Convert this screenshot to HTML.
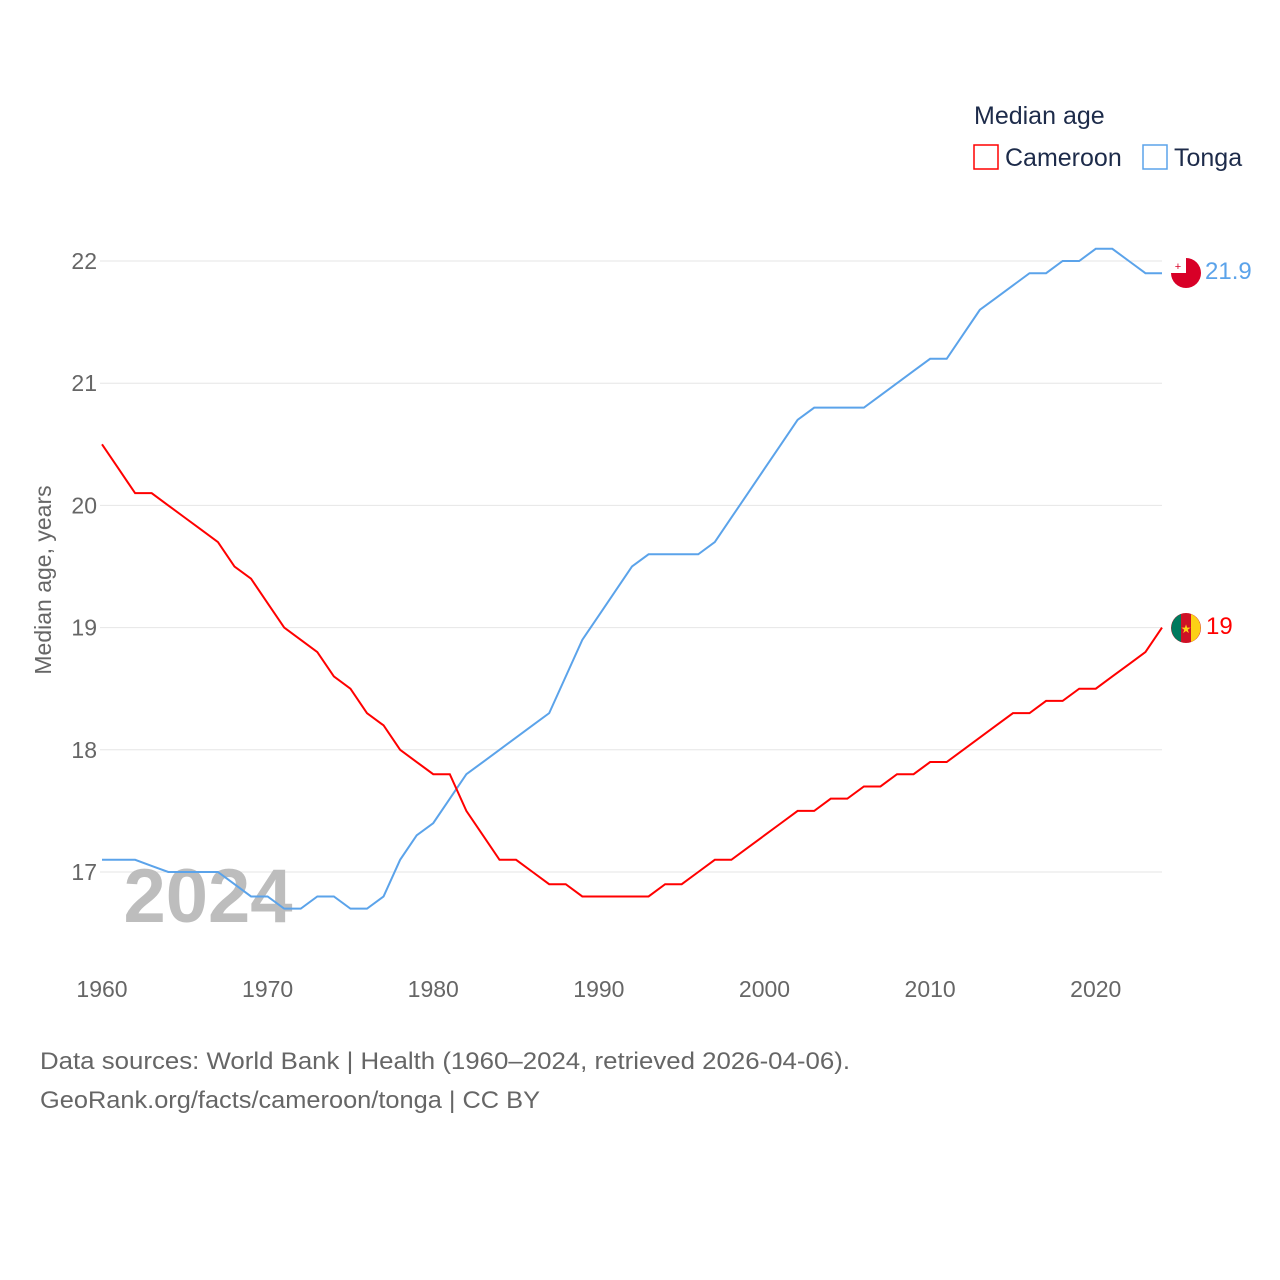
<!DOCTYPE html>
<html><head><meta charset="utf-8"><style>
body{margin:0;background:#fff;font-family:"Liberation Sans",sans-serif}
svg{display:block}
</style></head><body>
<svg width="1280" height="1280" viewBox="0 0 1280 1280">
<g id="grid"></g>
<g id="xt"></g>
<text x="208" y="922" font-size="76" font-weight="bold" fill="#bdbdbd" text-anchor="middle">2024</text>
<g id="lines"></g>
<text transform="translate(51,580) rotate(-90)" font-size="23" fill="#666" text-anchor="middle">Median age, years</text>
<text x="974" y="124" font-size="25" fill="#1d2b4a">Median age</text>
<g><rect x="974" y="145" width="24" height="24" fill="none" stroke="#f00" stroke-width="1.5"/><text x="1005" y="166" font-size="25" fill="#1d2b4a">Cameroon</text></g>
<g><rect x="1143" y="145" width="24" height="24" fill="none" stroke="#5ba3ea" stroke-width="1.5"/><text x="1174" y="166" font-size="25" fill="#1d2b4a">Tonga</text></g>
<g><circle cx="1186" cy="273" r="15" fill="#d80027"/><rect x="1171" y="258" width="15" height="15" fill="#fff"/><text x="1178" y="270" font-size="11" fill="#d80027" text-anchor="middle">+</text></g>
<text x="1205" y="279" font-size="24" fill="#5ba3ea">21.9</text>
<g><circle cx="1186" cy="628" r="15" fill="#ce1126"/><path d="M1181 614 A15 15 0 0 0 1181 642 Z" fill="#007a5e"/><path d="M1191 614 A15 15 0 0 1 1191 642 Z" fill="#fcd116"/><text x="1186" y="633" font-size="12" fill="#fcd116" text-anchor="middle">★</text></g>
<text x="1206" y="634" font-size="24" fill="#f00">19</text>
<text x="40" y="1069" font-size="24" fill="#666" textLength="810" lengthAdjust="spacingAndGlyphs">Data sources: World Bank | Health (1960–2024, retrieved 2026-04-06).</text>
<text x="40" y="1108" font-size="24" fill="#666" textLength="500" lengthAdjust="spacingAndGlyphs">GeoRank.org/facts/cameroon/tonga | CC BY</text>
</svg>
<script>
const years=[];for(let y=1960;y<=2024;y++)years.push(y);
const yTicks=[17,18,19,20,21,22];
const xTicks=[1960,1970,1980,1990,2000,2010,2020];
const cameroon=[20.5,20.3,20.1,20.1,20.0,19.9,19.8,19.7,19.5,19.4,19.2,19.0,18.9,18.8,18.6,18.5,18.3,18.2,18.0,17.9,17.8,17.8,17.5,17.3,17.1,17.1,17.0,16.9,16.9,16.8,16.8,16.8,16.8,16.8,16.9,16.9,17.0,17.1,17.1,17.2,17.3,17.4,17.5,17.5,17.6,17.6,17.7,17.7,17.8,17.8,17.9,17.9,18.0,18.1,18.2,18.3,18.3,18.4,18.4,18.5,18.5,18.6,18.7,18.8,19.0];
const tonga=[17.1,17.1,17.1,17.05,17.0,17.0,17.0,17.0,16.9,16.8,16.8,16.7,16.7,16.8,16.8,16.7,16.7,16.8,17.1,17.3,17.4,17.6,17.8,17.9,18.0,18.1,18.2,18.3,18.6,18.9,19.1,19.3,19.5,19.6,19.6,19.6,19.6,19.7,19.9,20.1,20.3,20.5,20.7,20.8,20.8,20.8,20.8,20.9,21.0,21.1,21.2,21.2,21.4,21.6,21.7,21.8,21.9,21.9,22.0,22.0,22.1,22.1,22.0,21.9,21.9];
const X=y=>102+(y-1960)*(1162-102)/64;
const Y=v=>261+(22-v)*122.2;
const NS="http://www.w3.org/2000/svg";
const g=document.getElementById('grid'),xt=document.getElementById('xt'),L=document.getElementById('lines');
yTicks.forEach(t=>{
 const l=document.createElementNS(NS,'line');
 l.setAttribute('x1',100);l.setAttribute('x2',1162);l.setAttribute('y1',Y(t));l.setAttribute('y2',Y(t));
 l.setAttribute('stroke','#e6e6e6');
 
 
 g.appendChild(l);
 const s=document.createElementNS(NS,'text');
 s.setAttribute('x',97);s.setAttribute('y',Y(t)+8);s.setAttribute('text-anchor','end');
 s.setAttribute('font-size','23');s.setAttribute('fill','#666');s.textContent=t;
 
 
 g.appendChild(s);
});
xTicks.forEach(t=>{
 const s=document.createElementNS(NS,'text');
 s.setAttribute('x',X(t));s.setAttribute('y',997);s.setAttribute('text-anchor','middle');
 s.setAttribute('font-size','23');s.setAttribute('fill','#666');s.textContent=t;
 
 
 xt.appendChild(s);
});
function line(data,color,name){
 const p=document.createElementNS(NS,'polyline');
 p.setAttribute('points',data.map((v,i)=>X(years[i])+','+Y(v)).join(' '));
 p.setAttribute('fill','none');p.setAttribute('stroke',color);p.setAttribute('stroke-width','2');
 
 
 L.appendChild(p);
}
line(tonga,'#5ba3ea','tonga-line');
line(cameroon,'#ff0000','cameroon-line');
</script>
</body></html>
